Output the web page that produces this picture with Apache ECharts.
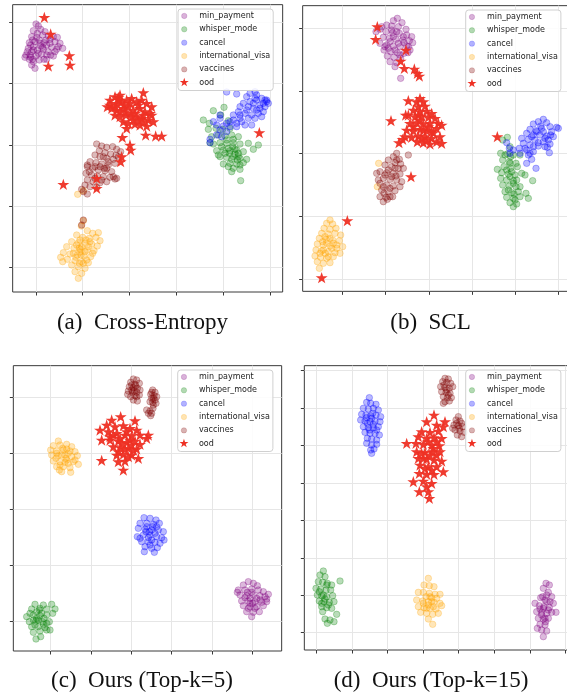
<!DOCTYPE html>
<html><head><meta charset="utf-8">
<script src="https://cdn.jsdelivr.net/npm/echarts@6/dist/echarts.min.js"></script>
<style>html,body{margin:0;padding:0;background:#fff}#c{width:567px;height:698px}</style>
</head><body><div id="c"></div>
<script>
// ---------------- categories & captions ----------------
const classes = ['min_payment','whisper_mode','cancel','international_visa','vaccines','ood'];
const captions = ['(a)  Cross-Entropy','(b)  SCL','(c)  Ours (Top-k=5)','(d)  Ours (Top-k=15)'];

// ---------------- axis ranges & tick values (embedding units, no labels shown) ----------------
const a_xRange = [38, 848], a_yRange = [14, 876];
const a_xTicks = [108, 248, 388, 530, 670, 810];
const a_yTicks = [67, 250, 435, 618, 802];
const b_xRange = [68, 864], b_yRange = [17, 874];
const b_xTicks = [187, 317, 447, 576, 706, 835];
const b_yTicks = [85, 273, 461, 649, 837];
const c_xRange = [40, 845], c_yRange = [32, 888];
const c_xTicks = [152, 273, 394, 515, 637, 758];
const c_yTicks = [127, 295, 463, 631, 799];
const d_xRange = [73, 864], d_yRange = [32, 885];
const d_xTicks = [110, 216, 322, 429, 536, 643, 750, 856];
const d_yTicks = [47, 160, 272, 384, 496, 609, 721, 833];

// ---------------- (a) Cross-Entropy ----------------
const a_min_payment = [[108,72],[115,78],[100,92],[122,88],[135,95],[112,100],[128,105],[95,110],[145,108],[160,110],[172,112],[150,118],[118,120],[105,125],[88,128],[132,128],[165,125],[180,130],[140,135],[122,138],[100,140],[85,145],[155,142],[175,140],[188,145],[130,148],[112,150],[95,155],[145,155],[165,155],[78,165],[92,172],[108,168],[125,162],[140,165],[160,168],[118,180],[100,185],[132,178],[88,178],[75,172],[105,205],[95,195],[150,130],[170,148],[138,120],[90,165],[98,178],[100,150],[115,160],[128,142],[92,135],[110,112],[140,178],[82,155],[120,130],[152,165],[98,120]];
const a_whisper_mode = [[672,322],[640,332],[662,345],[610,360],[628,370],[685,362],[648,385],[668,388],[690,385],[625,388],[635,410],[655,405],[675,408],[695,405],[715,410],[640,432],[660,428],[680,430],[700,428],[720,432],[745,430],[775,435],[650,452],[670,450],[690,452],[710,450],[730,455],[660,470],[680,472],[700,470],[720,475],[740,478],[670,492],[690,490],[710,492],[730,488],[700,505],[720,508],[695,515],[722,542],[688,460],[705,462],[712,480],[760,448],[630,428],[655,465],[715,470],[698,440],[665,440],[685,445],[705,448],[675,460],[695,478],[715,460],[680,420],[700,418],[720,495],[685,500]];
const a_cancel = [[680,276],[710,282],[740,290],[765,275],[770,285],[785,295],[800,300],[805,310],[790,310],[770,300],[750,305],[730,310],[720,320],[745,320],[760,325],[780,325],[795,320],[715,335],[735,340],[755,345],[775,340],[700,345],[720,355],[745,355],[765,355],[660,355],[690,365],[710,370],[735,375],[755,375],[650,375],[670,378],[690,380],[660,390],[680,395],[650,405],[630,418],[630,428],[665,410],[710,380],[725,365],[660,345],[640,365],[785,350],[750,280],[800,305],[760,310],[780,315],[790,335],[770,330],[740,330],[720,345],[700,360],[680,370],[765,295],[795,300]];
const a_international_visa = [[250,662],[244,678],[262,692],[278,700],[295,698],[230,705],[248,712],[268,715],[288,712],[300,722],[215,725],[235,728],[255,730],[275,732],[292,738],[200,740],[222,745],[242,748],[262,750],[282,752],[190,758],[210,762],[232,765],[252,768],[272,770],[182,772],[202,778],[225,782],[245,785],[265,788],[215,795],[235,800],[255,805],[225,815],[245,820],[235,835],[188,785],[278,760],[240,756],[228,772],[260,780],[233,583],[250,572],[243,765],[238,745],[245,740],[255,755],[230,735],[265,740],[250,790],[238,790],[220,760],[270,725],[258,720],[240,720]];
const a_vaccines = [[290,432],[305,438],[320,442],[338,440],[350,448],[362,455],[298,452],[315,458],[332,462],[348,466],[285,465],[300,470],[320,475],[340,478],[355,470],[270,485],[288,488],[305,492],[325,495],[345,490],[262,500],[278,505],[295,510],[315,512],[335,515],[258,520],[275,525],[292,528],[310,530],[330,532],[350,535],[262,540],[280,545],[300,548],[320,545],[255,555],[270,560],[290,562],[250,575],[262,582],[245,568],[340,530],[345,537],[262,495],[313,505],[250,660],[245,675],[300,500],[320,505],[285,535],[305,540],[325,485],[268,515],[310,470],[285,500]];
const a_ood = [[133,52],[152,102],[208,167],[210,195],[145,198],[330,300],[345,290],[360,285],[350,310],[365,305],[380,300],[395,295],[410,305],[425,300],[440,310],[455,320],[335,325],[350,330],[370,325],[385,320],[400,330],[420,325],[435,335],[450,340],[345,345],[360,350],[378,345],[395,350],[410,350],[425,355],[445,360],[460,365],[370,365],[385,370],[405,372],[420,375],[440,378],[380,385],[357,300],[372,315],[415,315],[330,315],[392,340],[430,345],[455,345],[437,405],[467,408],[485,408],[367,412],[390,435],[392,450],[365,470],[362,485],[430,278],[290,535],[290,565],[190,553],[778,398],[355,292],[322,320],[375,335],[390,310],[405,340],[430,365],[415,360],[360,335],[345,320],[400,360]];

// ---------------- (b) SCL ----------------
const b_min_payment = [[352,55],[340,62],[320,75],[335,78],[355,80],[378,88],[300,88],[318,95],[338,98],[358,100],[380,105],[395,110],[310,112],[328,115],[348,118],[368,120],[388,122],[300,130],[320,135],[340,138],[360,140],[380,138],[398,128],[312,150],[332,155],[352,158],[372,160],[390,150],[322,168],[342,172],[362,175],[330,185],[350,188],[345,200],[362,235],[288,95],[305,80],[366,68],[384,158],[330,125],[315,140],[372,128],[340,110],[355,130],[370,110],[325,145],[345,150],[360,165],[335,90],[385,140],[350,95]];
const b_whisper_mode = [[682,412],[668,420],[690,440],[662,460],[682,462],[700,465],[720,465],[668,480],[688,485],[708,490],[672,500],[692,505],[712,500],[652,508],[665,518],[685,522],[705,525],[725,520],[662,535],[680,540],[700,542],[758,542],[668,555],[688,558],[708,560],[675,575],[695,578],[715,575],[738,580],[680,592],[700,595],[720,590],[745,595],[690,608],[710,612],[700,620],[692,470],[675,465],[735,525],[690,530],[702,582],[680,510],[695,515],[700,550],[685,570],[710,540],[690,490],[705,600],[720,560]];
const b_cancel = [[790,358],[775,365],[800,368],[760,372],[782,378],[810,380],[830,382],[750,388],[768,392],[790,395],[815,395],[740,400],[760,405],[780,405],[800,408],[820,410],[725,415],[745,418],[765,420],[790,425],[810,432],[730,430],[750,435],[775,438],[795,440],[808,458],[718,445],[740,450],[760,455],[700,450],[690,460],[720,460],[745,465],[755,478],[740,490],[768,505],[680,428],[688,445],[835,385],[802,442],[755,410],[812,405],[770,395],[795,415],[775,428],[760,440],[785,385],[805,420],[735,445],[750,460]];
const b_international_visa = [[150,660],[140,670],[158,672],[132,685],[150,688],[168,685],[125,700],[145,702],[165,700],[182,705],[118,715],[138,718],[158,720],[178,722],[112,732],[130,735],[150,738],[170,735],[188,740],[108,750],[125,752],[145,755],[165,758],[180,760],[105,768],[122,772],[140,775],[160,770],[112,785],[130,790],[150,788],[118,805],[170,745],[136,760],[128,725],[296,490],[292,560],[140,730],[155,745],[130,750],[150,715],[120,760],[160,730],[135,710],[145,770]];
const b_vaccines = [[350,460],[340,470],[358,478],[325,480],[345,488],[362,492],[315,495],[335,500],[355,505],[370,505],[300,515],[320,518],[340,520],[360,522],[290,520],[310,535],[330,538],[350,540],[365,545],[300,550],[320,555],[340,558],[305,570],[325,575],[345,572],[300,590],[318,592],[338,590],[310,605],[385,465],[295,540],[330,590],[348,528],[312,580],[360,560],[322,598],[335,530],[325,510],[345,505],[310,560],[330,565],[350,480],[315,525]];
const b_ood = [[292,80],[287,118],[378,150],[362,183],[373,205],[403,207],[412,220],[418,228],[420,295],[410,305],[430,305],[415,320],[435,318],[400,330],[420,335],[440,333],[455,340],[385,345],[405,350],[425,348],[445,352],[465,355],[475,370],[390,370],[410,368],[430,372],[450,370],[470,385],[380,390],[400,392],[420,388],[440,392],[460,398],[485,375],[375,410],[395,412],[415,408],[435,410],[455,415],[470,425],[485,430],[450,432],[430,428],[357,428],[385,302],[377,345],[333,362],[393,530],[652,410],[480,410],[412,425],[368,418],[202,662],[125,833],[430,390],[445,380],[420,360],[400,380],[440,420],[425,415],[455,395],[415,345]];

// ---------------- (c) Ours (Top-k=5) ----------------
const c_min_payment = [[745,680],[760,685],[730,690],[772,692],[715,705],[735,705],[755,702],[775,705],[790,710],[805,718],[720,720],[740,722],[760,720],[780,722],[800,732],[725,738],[745,738],[765,740],[785,742],[800,740],[730,752],[750,755],[770,755],[790,752],[740,770],[760,772],[778,770],[755,785],[750,730],[770,730],[712,712],[795,725],[758,745],[742,712],[750,745],[765,760],[735,728],[780,735],[755,712],[745,760]];
const c_whisper_mode = [[105,748],[130,750],[155,748],[95,762],[118,765],[140,762],[165,762],[80,785],[100,780],[120,782],[140,780],[158,775],[88,800],[108,798],[128,800],[148,800],[95,815],[115,815],[135,818],[150,825],[100,832],[120,828],[140,825],[108,852],[122,845],[115,795],[132,790],[110,770],[90,775],[125,775],[110,790],[130,808],[105,810],[120,760],[100,795],[140,805]];
const c_cancel = [[432,488],[450,490],[468,495],[420,505],[440,505],[460,508],[478,505],[415,520],[435,522],[455,525],[475,525],[490,530],[412,545],[430,540],[450,540],[470,545],[485,548],[425,560],[445,560],[465,562],[480,565],[435,575],[455,580],[472,578],[433,590],[463,592],[448,530],[458,515],[420,550],[492,555],[445,548],[440,515],[465,535],[455,555],[438,530],[470,515],[450,570]];
const c_international_visa = [[175,258],[160,272],[180,270],[200,268],[215,275],[152,285],[170,288],[190,285],[210,288],[225,290],[155,300],[175,302],[195,300],[215,305],[232,302],[160,318],[180,320],[200,315],[220,320],[235,328],[170,335],[190,335],[210,338],[185,350],[212,352],[188,280],[198,310],[168,310],[225,315],[205,325],[178,345],[185,300],[205,295],[180,330],[195,322],[170,295],[200,282]];
const c_vaccines = [[400,72],[410,75],[392,82],[405,88],[418,85],[388,95],[400,98],[412,100],[385,108],[397,112],[410,112],[420,105],[392,125],[405,122],[418,120],[400,135],[412,138],[383,118],[395,105],[407,92],[458,105],[465,112],[452,118],[462,122],[470,125],[455,130],[465,135],[458,142],[468,145],[450,140],[460,150],[440,165],[450,168],[455,175],[445,175],[452,182],[459,160],[402,108],[395,90],[410,125],[460,130],[455,112]];
const c_ood = [[335,195],[362,185],[405,197],[320,210],[345,215],[370,212],[390,220],[410,225],[300,225],[325,230],[350,235],[375,240],[395,242],[420,240],[445,240],[305,255],[330,255],[355,258],[380,262],[405,258],[440,250],[340,275],[362,278],[385,280],[410,282],[350,300],[370,298],[395,300],[415,310],[305,316],[355,320],[375,318],[370,345],[385,305],[360,250],[420,268],[395,270],[340,240],[380,230],[365,265],[390,255],[355,290],[375,282],[400,285],[330,245]];

// ---------------- (d) Ours (Top-k=15) ----------------
const d_min_payment = [[798,685],[808,690],[790,700],[805,712],[800,720],[815,725],[782,728],[795,735],[810,740],[820,745],[765,745],[778,752],[792,755],[808,758],[770,770],[785,772],[800,775],[815,772],[828,772],[775,790],[790,792],[805,790],[780,808],[795,810],[772,820],[785,825],[800,828],[790,845],[780,762],[797,800],[790,760],[800,740],[785,780],[795,790],[805,765],[788,725]];
const d_whisper_mode = [[130,648],[120,660],[135,665],[115,680],[128,682],[142,685],[155,690],[180,678],[108,700],[122,702],[138,705],[152,705],[112,720],[125,722],[140,725],[158,722],[118,738],[132,740],[148,742],[162,740],[125,755],[140,758],[155,760],[170,778],[135,792],[150,795],[142,805],[162,800],[128,770],[130,720],[135,732],[125,745],[145,750],[118,710],[140,690]];
const d_cancel = [[268,128],[260,142],[272,145],[288,148],[250,160],[265,162],[280,160],[295,165],[245,178],[258,180],[272,182],[288,180],[302,185],[242,195],[255,198],[270,200],[285,198],[300,200],[250,215],[265,218],[280,218],[295,215],[255,232],[270,235],[285,235],[298,240],[262,250],[275,252],[290,255],[260,265],[275,270],[290,268],[272,285],[282,282],[275,295],[275,190],[262,205],[280,208],[268,225],[290,225],[260,188],[278,175]];
const d_international_visa = [[445,670],[432,690],[448,692],[462,695],[415,712],[430,712],[448,715],[465,718],[480,718],[410,735],[428,738],[445,740],[462,742],[480,745],[415,755],[432,758],[450,760],[468,762],[485,752],[422,772],[440,775],[458,778],[475,775],[445,792],[458,808],[438,725],[455,728],[470,730],[445,750],[455,740],[440,760],[430,745],[460,755],[450,725]];
const d_vaccines = [[495,70],[505,72],[488,80],[500,82],[512,85],[482,95],[495,98],[508,100],[518,95],[485,110],[498,112],[510,115],[490,125],[502,128],[514,128],[495,140],[508,138],[490,145],[535,185],[528,195],[540,198],[522,210],[535,212],[548,215],[525,225],[540,228],[552,232],[532,240],[545,245],[518,220],[545,205],[500,105],[492,90],[505,120],[538,220],[530,205]];
const d_ood = [[462,180],[440,200],[495,200],[470,210],[490,215],[425,230],[450,232],[475,228],[415,245],[440,250],[462,248],[485,250],[380,265],[408,265],[430,268],[455,270],[478,272],[410,290],[435,292],[458,290],[480,290],[415,310],[440,312],[462,315],[485,318],[420,330],[445,335],[470,335],[490,350],[418,355],[440,358],[462,358],[400,380],[430,378],[455,385],[418,410],[445,410],[448,430],[440,395],[470,300],[450,300],[425,295],[445,260],[460,280],[430,310],[455,345],[435,340],[470,260]];

// ---------------- assemble ----------------
const panelData = [
  {xr:a_xRange, yr:a_yRange, xt:a_xTicks, yt:a_yTicks, series:[a_min_payment,a_whisper_mode,a_cancel,a_international_visa,a_vaccines,a_ood]},
  {xr:b_xRange, yr:b_yRange, xt:b_xTicks, yt:b_yTicks, series:[b_min_payment,b_whisper_mode,b_cancel,b_international_visa,b_vaccines,b_ood]},
  {xr:c_xRange, yr:c_yRange, xt:c_xTicks, yt:c_yTicks, series:[c_min_payment,c_whisper_mode,c_cancel,c_international_visa,c_vaccines,c_ood]},
  {xr:d_xRange, yr:d_yRange, xt:d_xTicks, yt:d_yTicks, series:[d_min_payment,d_whisper_mode,d_cancel,d_international_visa,d_vaccines,d_ood]}
];

// layout (pixels) — styles only
const SCALE = 1/3;
const origins = [[0,0],[280,0],[0,355],[280,355]];
const legendPos = [[178,9],[465.7,10],[177.7,370],[465.7,370]];
const capPos = [[142.5,311],[430.5,311],[142,669],[431,669]];
const rgb = {min_payment:'128,0,128', whisper_mode:'0,128,0', cancel:'0,0,255', international_visa:'255,165,0', vaccines:'128,0,0'};
const starColor = '#ee3024';
const STAR = 'path://M100,0 L122.45,69.1 L195.11,69.1 L136.33,111.8 L158.78,180.9 L100,138.2 L41.22,180.9 L63.67,111.8 L4.89,69.1 L77.55,69.1 Z';
const STAR_ICON = 'path://M0,0 M200,200 M100,5 L121.3,70.6 L190.4,70.6 L134.5,111.2 L155.8,176.8 L100,136.3 L44.2,176.8 L65.5,111.2 L9.6,70.6 L78.7,70.6 Z';
const CIRCLE_ICON = 'path://M0,0 M200,200 M154,100 A54,54 0 1,1 46,100 A54,54 0 1,1 154,100 Z';
const frameColor = '#3a3a3a';

const grids = [], xAxes = [], yAxes = [], series = [], legends = [], titles = [];
panelData.forEach((p, i) => {
  const [ox, oy] = origins[i];
  grids.push({
    left: ox + p.xr[0]*SCALE, top: oy + p.yr[0]*SCALE,
    width: (p.xr[1]-p.xr[0])*SCALE, height: (p.yr[1]-p.yr[0])*SCALE,
    show: true, borderColor: frameColor, borderWidth: 1, backgroundColor: 'rgba(0,0,0,0)',
    containLabel: false, outerBoundsMode: 'none'
  });
  const ax = (range, ticks, extra) => Object.assign({
    gridIndex: i, type: 'value', min: range[0], max: range[1],
    axisLine: {show: false},
    axisLabel: {show: false, customValues: ticks},
    axisTick: {show: true, length: 3.5, lineStyle: {color: frameColor, width: 1}, customValues: ticks},
    splitLine: {show: true, lineStyle: {color: '#e6e6e6', width: 1}}
  }, extra);
  xAxes.push(ax(p.xr, p.xt, {position: 'bottom'}));
  yAxes.push(ax(p.yr, p.yt, {position: 'left', inverse: true}));
  classes.forEach((c, k) => {
    const isOod = c === 'ood';
    series.push({
      type: 'scatter', name: c, xAxisIndex: i, yAxisIndex: i,
      data: p.series[k],
      symbol: isOod ? STAR : 'circle',
      symbolSize: isOod ? 12 : 6.5,
      symbolKeepAspect: true,
      itemStyle: isOod ? {color: starColor, opacity: 0.95}
                       : {color: 'rgba(' + rgb[c] + ',0.34)', borderColor: 'rgba(' + rgb[c] + ',0.42)', borderWidth: 0.8},
      silent: true, animation: false, emphasis: {disabled: true}, z: 2 + k*0.01
    });
  });
  legends.push({
    orient: 'vertical', left: legendPos[i][0], top: legendPos[i][1],
    itemWidth: 20, itemHeight: 10, itemGap: 2.86,
    padding: [1.7, 3, 3, 1],
    backgroundColor: 'rgba(255,255,255,0.85)', borderColor: '#d0d0d0', borderWidth: 1, borderRadius: 3,
    symbolKeepAspect: true, selectedMode: false,
    textStyle: {fontFamily: 'DejaVu Sans', fontSize: 8, color: '#222'},
    data: classes.map(c => ({
      name: c,
      icon: c === 'ood' ? STAR_ICON : CIRCLE_ICON,
      itemStyle: c === 'ood' ? {color: starColor, borderWidth: 0, opacity: 1}
                             : {color: 'rgba(' + rgb[c] + ',0.3)', borderColor: 'rgba(' + rgb[c] + ',0.35)', borderWidth: 0.5, opacity: 1}
    })),
    z: 10
  });
  titles.push({
    text: captions[i], left: capPos[i][0], top: capPos[i][1], textAlign: 'center', padding: 0,
    textStyle: {fontFamily: 'Liberation Serif', fontSize: 23, fontWeight: 'normal', color: '#111'}
  });
});

const chart = echarts.init(document.getElementById('c'), null, {renderer: 'canvas'});
chart.setOption({
  animation: false,
  backgroundColor: '#fff',
  title: titles, grid: grids, xAxis: xAxes, yAxis: yAxes, legend: legends, series: series
});
</script></body></html>
